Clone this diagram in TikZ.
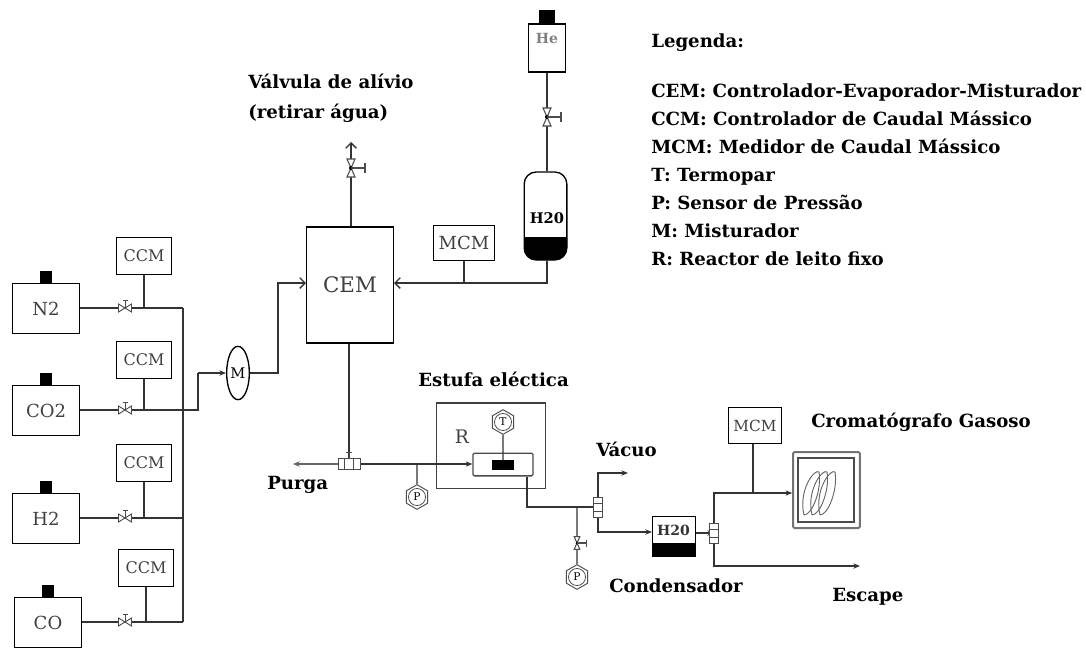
\documentclass[tikz,border=0pt]{standalone}
\usepackage{fontspec}
\setmainfont{DejaVu Serif}
\usetikzlibrary{calc,arrows.meta,positioning,shapes.geometric}
\tikzset{
  equip/.style={draw, line width=1pt, rectangle, inner sep=0pt, font=\fontsize{12}{12}\selectfont, text=black!75},
  tag/.style={font=\bfseries\fontsize{13.6}{21}\selectfont, anchor=west, inner sep=0pt, align=left},
  pipe/.style={draw=black!80, line width=1pt},
  barb/.style={-{Straight Barb[length=4pt,width=8pt]}},
  gauge/.style={draw=black!70, regular polygon, regular polygon sides=6, shape border rotate=30, minimum size=18.5pt, inner sep=0pt, line width=.7pt, font=\fontsize{8}{8}\selectfont,
    path picture={\draw[black!70, line width=.6pt] (path picture bounding box.center) circle (6.4pt);}},
  bottlecap/.style={fill=black, inner sep=0pt, minimum width=9.5pt, minimum height=9pt},
  valve/.pic={
    \draw[black!70, fill=white, line width=.7pt] (-6.5,-4) -- (6.5,4) -- (6.5,-4) -- (-6.5,4) -- cycle;
    \draw[black!70, line width=.7pt] (0,0) -- (0,-8) (-2.5,-8) -- (2.5,-8);
  },
  vvalve/.pic={
    \draw[black!70, fill=white, line width=.8pt] (-4,-9) -- (4,9) -- (-4,9) -- (4,-9) -- cycle;
    \fill (0,0) circle (2);
    \draw[black!70, line width=.9pt] (0,0) -- (14,0) (14,-5) -- (14,5);
  },
  threeway/.pic={
    \draw[black!70, fill=white, line width=.7pt] (-4.5,-5.5) rectangle (4.5,5.5);
    \draw[black!70, fill=white, line width=.7pt] (-11,-5.5) rectangle (-4.5,5.5) (4.5,-5.5) rectangle (11,5.5);
    \draw[black!70, line width=.7pt] (0,-5.5) -- (0,-12) (-3,-12) -- (3,-12);
  },
  vthreeway/.pic={
    \draw[black!70, fill=white, line width=.7pt] (-4.5,-4) rectangle (4.5,4);
    \draw[black!70, fill=white, line width=.7pt] (-4.5,-10) rectangle (4.5,-4) (-4.5,4) rectangle (4.5,10);
  },
}
\begin{document}
\begin{tikzpicture}[x=0.75pt, y=-0.75pt, >={Stealth[length=5pt,width=4pt]}]
  \useasboundingbox (0,0) rectangle (1086,650);

  % Gas cylinders
  \foreach \name/\txt/\xa/\ya in {N2/N2/12/283, CO2/CO2/12/385, H2/H2/12/493, CO/CO/14/597} {
    \node[equip, font=\fontsize{13.5}{13.5}\selectfont, minimum width=50pt, minimum height=37.5pt, anchor=north west] (\name) at (\xa,\ya) {\txt};
    \node[bottlecap, anchor=south] (cap\name) at (\name.north) {};
  }

  % Flow controllers
  \foreach \name/\xa/\ya in {ccmA/144/256, ccmB/144/360, ccmC/144/463, ccmD/146/568} {
    \node[equip, minimum width=41pt, minimum height=28pt] (\name) at (\xa,\ya) {CCM};
  }

  % Bus and mixer
  \coordinate (jA) at (144,308);
  \coordinate (jB) at (144,410);
  \coordinate (jC) at (144,518);
  \coordinate (jD) at (146,622);
  \coordinate (busA) at (183,308);
  \coordinate (busB) at (183,410);
  \coordinate (busC) at (183,518);
  \coordinate (busD) at (183,622);
  \coordinate (outB) at (198,410);
  \coordinate (outC) at (198,373);
  \node[draw, ellipse, line width=1pt, minimum width=17pt, minimum height=40pt, inner sep=0pt, font=\fontsize{11}{11}\selectfont] (M) at (238,373) {M};

  \draw[pipe] (N2.east |- jA) -- (jA) -- (busA);
  \draw[pipe] (CO2.east |- jB) -- (jB) -- (busB) -- (outB) -- (outC);
  \draw[pipe] (H2.east |- jC) -- (jC) -- (busC);
  \draw[pipe] (CO.east |- jD) -- (jD) -- (busD);
  \draw[pipe, line width=1.2pt] (busA) -- (busD);
  \draw[pipe, ->] (outC) -- (M.west |- outC);
  \foreach \n/\j in {ccmA/jA, ccmB/jB, ccmC/jC, ccmD/jD} \draw[pipe] (\n) -- (\j);
  \foreach \y in {308,410,518,622} \pic at (125,\y) {valve};

  % Controller-evaporator-mixer
  \node[equip, minimum width=65pt, minimum height=87pt, font=\fontsize{16}{16}\selectfont] (CEM) at (350,285) {CEM};
  \coordinate (mA) at (278,373);
  \coordinate (mB) at (278,283);
  \draw[pipe, barb] (M.east) -- (mA) -- (mB) -- (CEM.west |- mB);

  % Relief line
  \coordinate (relief) at (351,142);
  \draw[pipe, barb] (CEM.north -| relief) -- (relief);
  \pic at (351,168) {vvalve};

  % Helium and water feed
  \node[equip, minimum width=28pt, minimum height=36pt] (He) at (547,48) {};
  \node[font=\bfseries\fontsize{10.5}{10.5}\selectfont, text=black!50] (heText) at (547,38) {He};
  \node[bottlecap, minimum width=12pt, minimum height=10pt, anchor=south] (capHe) at (He.north) {};
  \fill[rounded corners=9pt] (524,225) -- (567,225) -- (567,260) -- (524,260) -- cycle;
  \fill[white] (522,172) rectangle (569,237);
  \node[equip, rounded corners=9pt, minimum width=32pt, minimum height=66pt] (tank) at (545.5,216) {};
  \node[font=\bfseries\fontsize{11}{11}\selectfont] (tankText) at (547,218) {H20};
  \draw[pipe] (He) -- (tank.north -| He);
  \pic at (547,117) {vvalve};
  \node[equip, font=\fontsize{13.5}{13.5}\selectfont, minimum width=46pt, minimum height=26pt] (mcmA) at (464,243) {MCM};
  \coordinate (tA) at (547,283);
  \coordinate (tB) at (464,283);
  \draw[pipe, barb] (tank.south -| tA) -- (tA) -- (tB) -- (CEM.east |- tB);
  \draw[pipe] (mcmA) -- (tB);

  % Furnace and reactor
  \node[equip, draw=black!75, minimum width=82pt, minimum height=64pt] (oven) at (491,445.5) {};
  \node[font=\fontsize{14}{14}\selectfont, text=black!75] (R) at (462,437) {R};
  \node[equip, rounded corners=1pt, draw=black!70, minimum width=45pt, minimum height=17pt] (reactor) at (503,464.5) {};
  \node[fill=black, inner sep=0pt, minimum width=16.5pt, minimum height=7pt] (bed) at (503,465) {};
  \node[gauge] (T) at (503,422) {T};
  \node[gauge] (pA) at (417,497) {P};
  \node[gauge] (pB) at (577,577) {P};
  \draw[pipe] (T) -- (bed);

  % Purge and reactor feed
  \coordinate (pv) at (349,464);
  \coordinate (purge) at (293,464);
  \coordinate (jP) at (417,464);
  \draw[pipe] (CEM.south -| pv) -- (pv);
  \draw[pipe, draw=black!60, ->] (pv) -- (purge);
  \draw[pipe, ->] (pv) -- (jP) -- (reactor.west |- jP);
  \draw[pipe] (jP) -- (pA);
  \pic at (349,464) {threeway};

  % Reactor outlet
  \coordinate (oA) at (527,507);
  \coordinate (jQ) at (577,507);
  \coordinate (vv) at (598,507);
  \coordinate (vacA) at (598,473);
  \coordinate (vac) at (628,473);
  \coordinate (cA) at (598,532);
  \draw[pipe] (reactor.south -| oA) -- (oA) -- (vv);
  \draw[pipe] (jQ) -- (pB);
  \pic[scale=.7] at (577,543) {vvalve};
  \draw[pipe, ->] (vv) -- (vacA) -- (vac);

  % Condenser
  \node[equip, minimum width=32pt, minimum height=30pt, anchor=north west] (cond) at (652,516) {};
  \fill (652,543) rectangle (695,556);
  \node[font=\bfseries\fontsize{10.5}{10.5}\selectfont, text=black!80] (condText) at (673.5,530) {H20};
  \draw[pipe, ->] (vv) -- (cA) -- (cond.west |- cA);

  % Gas chromatograph
  \node[equip, draw=black!55, line width=1.5pt, rounded corners=1pt, minimum width=50pt, minimum height=57pt] (GC) at (826.5,490) {};
  \node[equip, draw=black!70, line width=.8pt, minimum width=42pt, minimum height=48pt] (GCin) at (826,490) {};
  \node[equip, font=\fontsize{11.5}{11.5}\selectfont, minimum width=40pt, minimum height=27pt] (mcmB) at (755,425.5) {MCM};
  \coordinate (sv) at (714,533);
  \coordinate (gA) at (714,493);
  \coordinate (gB) at (753,493);
  \coordinate (eA) at (714,566);
  \coordinate (esc) at (860,566);
  \draw[pipe, ->] (cond.east |- sv) -- (sv);
  \draw[pipe] (sv) -- (gA) -- (gB);
  \draw[pipe, ->] (gB) -- (GC.west |- gB);
  \draw[pipe] (mcmB.south -| gB) -- (gB);
  \draw[pipe, ->] (sv) -- (eA) -- (esc);
  \pic at (714,533) {vthreeway};
  \pic at (598,507) {vthreeway};
  % Coils of the chromatogram
  \foreach \xa in {812,820,828} {
    \draw[black!60, line width=.7pt] (\xa-8,515) .. controls (\xa-14,490) and (\xa+3,468) .. (\xa+7,472) .. controls (\xa+10,490) and (\xa,515) .. (\xa-8,515);
  }

  % Labels
  \node[tag] (tRelief) at (248,98) {Válvula de alívio\\[1.5pt](retirar água)};
  \node[tag] (tOven) at (418,379) {Estufa eléctica};
  \node[tag] (tPurga) at (267,485) {Purga};
  \node[tag] (tVac) at (596,449) {Vácuo};
  \node[tag] (tCond) at (609,586) {Condensador};
  \node[tag] (tGC) at (811,422) {Cromatógrafo Gasoso};
  \node[tag] (tEsc) at (832,597) {Escape};

  % Legend
  \node[tag, anchor=north west] (legend) at (651,33) {Legenda:\\[16.5pt]
    CEM: Controlador-Evaporador-Misturador\\
    CCM: Controlador de Caudal Mássico\\
    MCM: Medidor de Caudal Mássico\\
    T: Termopar\\
    P: Sensor de Pressão\\
    M: Misturador\\
    R: Reactor de leito fixo};
\end{tikzpicture}
\end{document}
